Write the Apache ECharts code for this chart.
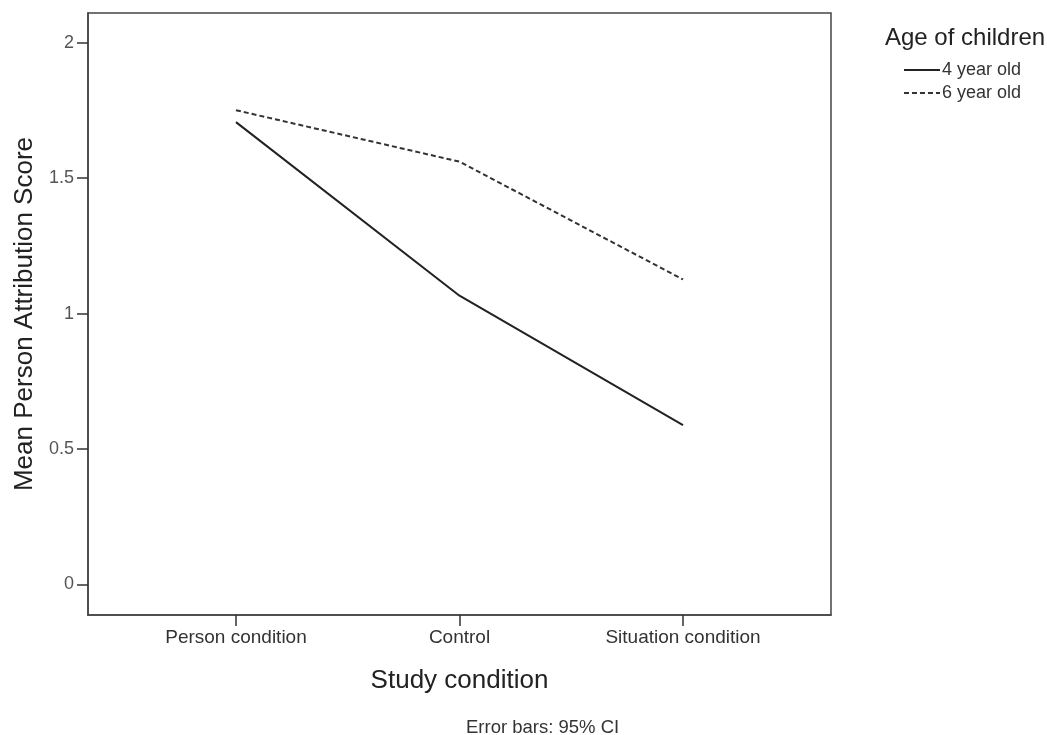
<!DOCTYPE html>
<html>
<head>
<meta charset="utf-8">
<script src="https://cdn.jsdelivr.net/npm/echarts@6/dist/echarts.min.js"></script>
<style>html,body{margin:0;padding:0;background:#fff;}#chart{width:1047px;height:735px;}</style>
</head>
<body>
<div id="chart"></div>
<script>
var categories = ['Person condition', 'Control', 'Situation condition'];
var seriesNames = ['4 year old', '6 year old'];
var fourYearOld = [1.707, 1.066, 0.588];
var sixYearOld = [1.751, 1.561, 1.126];
var yTicks = [0, 0.5, 1, 1.5, 2];
var yTickLabels = ['0', '0.5', '1', '1.5', '2'];

var font = '"Liberation Sans", Arial, sans-serif';
function pairs(vals) { return vals.map(function (v, i) { return [i, v]; }); }

var chart = echarts.init(document.getElementById('chart'));
chart.setOption({
  animation: false,
  backgroundColor: '#fff',
  textStyle: { fontFamily: font },
  title: {
    text: 'Age of children',
    left: 880, top: 21,
    textStyle: { fontFamily: font, fontSize: 24, fontWeight: 'normal', color: '#222' }
  },
  legend: {
    orient: 'vertical',
    left: 903, top: 61, padding: 0,
    itemWidth: 36, itemHeight: 14, itemGap: 5,
    data: seriesNames,
    itemStyle: { opacity: 0 },
    textStyle: { fontFamily: font, fontSize: 18, color: '#333', padding: [0, 0, 0, -3] }
  },
  graphic: [{
    type: 'text', left: 466, top: 718,
    style: { text: 'Error bars: 95% CI', font: '18.5px ' + font, fill: '#333' }
  }],
  grid: {
    left: 88, top: 13, width: 743, height: 602,
    outerBoundsMode: 'none',
    containLabel: false,
    show: true, borderColor: '#444', borderWidth: 1.5
  },
  xAxis: {
    type: 'value', min: -0.662, max: 2.662,
    name: 'Study condition', nameLocation: 'middle', nameGap: 53,
    nameTextStyle: { fontFamily: font, fontSize: 26, color: '#222' },
    splitLine: { show: false },
    axisLine: { show: true, onZero: false, lineStyle: { color: '#444', width: 1.5 } },
    axisTick: { show: true, length: 11, lineStyle: { color: '#333', width: 1.5 }, customValues: [0, 1, 2] },
    axisLabel: {
      customValues: [0, 1, 2], margin: 13,
      fontFamily: font, fontSize: 19, color: '#333',
      formatter: function (v) { return categories[Math.round(v)]; }
    }
  },
  yAxis: {
    type: 'value', min: -0.113, max: 2.11,
    name: 'Mean Person Attribution Score', nameLocation: 'middle', nameGap: 48,
    nameTextStyle: { fontFamily: font, fontSize: 26, color: '#222' },
    splitLine: { show: false },
    axisLine: { show: true, onZero: false, lineStyle: { color: '#444', width: 1.5 } },
    axisTick: { show: true, length: 11, lineStyle: { color: '#333', width: 1.5 }, customValues: yTicks },
    axisLabel: {
      customValues: yTicks, margin: 14,
      fontFamily: font, fontSize: 18, color: '#555',
      formatter: function (v) { var i = yTicks.indexOf(v); return i >= 0 ? yTickLabels[i] : ''; }
    }
  },
  series: [{
    name: seriesNames[0], type: 'line', data: pairs(fourYearOld),
    symbol: 'none', color: '#222',
    lineStyle: { color: '#222', width: 2, type: 'solid' }
  }, {
    name: seriesNames[1], type: 'line', data: pairs(sixYearOld),
    symbol: 'none', color: '#222',
    lineStyle: { color: '#333', width: 2, type: [5, 3] }
  }]
});
</script>
</body>
</html>
